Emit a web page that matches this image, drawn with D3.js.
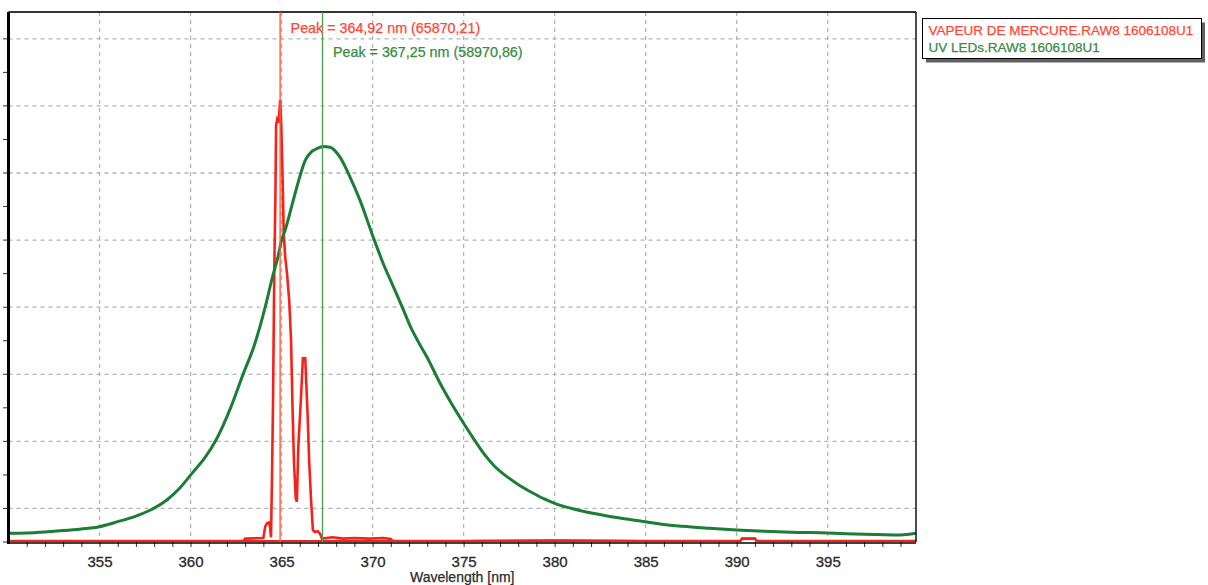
<!DOCTYPE html>
<html>
<head>
<meta charset="utf-8">
<script src="https://cdn.jsdelivr.net/npm/d3@7"></script>
<style>
  html, body { margin: 0; padding: 0; background: #fff; }
  svg { display: block; font-family: "Liberation Sans", Arial, sans-serif; }
</style>
</head>
<body>
<div class="visualization"></div>
<script>
// UV LED spectrum (green)
const ledWavelength = [350, 351, 352, 353, 354, 355, 356, 357, 357.8, 358.7, 359.4, 360.1, 360.8, 361.4, 362.2, 362.9, 363.5, 364.1, 364.5, 364.8, 365.0, 365.2, 365.6, 365.9, 366.3, 366.65, 367.0, 367.28, 367.66, 368.2, 368.76, 369.3, 370.0, 370.6, 371.1, 371.6, 372.1, 372.5, 373.0, 373.7, 374.3, 375.0, 375.5, 376.1, 376.7, 377.4, 378.1, 378.8, 379.4, 380.0, 381.0, 382.1, 383.5, 385.0, 385.8, 387.0, 388.5, 390.0, 391.5, 393.0, 395.0, 397.0, 399.0, 399.85];
const ledCounts = [1300, 1350, 1500, 1700, 1950, 2280, 3030, 3870, 4770, 6260, 8000, 10300, 12600, 15200, 20000, 25100, 29300, 35000, 39500, 42500, 45000, 46500, 50500, 53500, 56900, 58200, 58700, 58970, 58850, 57400, 54400, 51000, 45700, 41400, 38300, 35200, 32000, 29900, 27500, 23700, 20800, 17700, 15600, 13200, 11300, 9700, 8400, 7300, 6450, 5770, 4950, 4280, 3600, 3030, 2680, 2350, 2050, 1790, 1600, 1450, 1350, 1150, 1050, 1300];

// mercury vapour lamp spectrum (red)
const hgWavelength = [350, 355, 360, 362.9, 363.0, 364.0, 364.1, 364.2, 364.3, 364.36, 364.42, 364.48, 364.53, 364.6, 364.66, 364.7, 364.76, 364.84, 364.92, 364.98, 365.05, 365.12, 365.2, 365.3, 365.42, 365.52, 365.6, 365.68, 365.78, 365.84, 365.92, 366.06, 366.17, 366.3, 366.42, 366.52, 366.62, 366.72, 366.82, 366.98, 367.12, 367.22, 367.8, 368.4, 369.0, 369.8, 370.6, 371.0, 371.1, 375, 380, 385, 390.2, 390.3, 391.0, 391.1, 395, 399.85];
const hgCounts = [150, 150, 150, 150, 500, 600, 2300, 2800, 2900, 2400, 700, 10700, 20700, 40500, 51300, 62100, 63000, 62500, 65870, 62300, 55000, 46000, 42500, 40000, 36000, 30100, 20200, 12000, 6500, 6000, 14200, 21200, 27400, 27400, 19700, 11800, 6260, 1800, 1500, 1600, 1200, 500, 700, 500, 600, 500, 600, 450, 150, 150, 200, 150, 150, 500, 500, 150, 150, 150];

const xTickLabels = [355, 360, 365, 370, 375, 380, 385, 390, 395];
const yGridValues = [5000, 15000, 25000, 35000, 45000, 55000, 65000, 75000];
const peakWavelength = [364.92, 367.25];
const peakLabels = ["Peak = 364,92 nm (65870,21)", "Peak = 367,25 nm (58970,86)"];
const legendLabels = ["VAPEUR DE MERCURE.RAW8 1606108U1", "UV LEDs.RAW8 1606108U1"];

const W = 1208, H = 585;
const plotLeft = 8.5, plotRight = 916, plotTop = 12, plotBottom = 542;
const red = "#f5221a", green = "#1b7d36";

const svg = d3.select("div.visualization").append("svg")
    .attr("width", W)
    .attr("height", H);

const x = d3.scaleLinear().domain([350, 399.85]).range([plotLeft, plotRight]);
const y = d3.scaleLinear().domain([0, 79000]).range([plotBottom, plotTop]);

svg.append("defs").append("clipPath").attr("id", "plot")
  .append("rect")
    .attr("x", plotLeft).attr("y", plotTop)
    .attr("width", plotRight - plotLeft).attr("height", plotBottom - plotTop);

// dashed grid
svg.append("g").selectAll("line")
    .data(yGridValues)
    .enter().append("line")
    .attr("x1", plotLeft).attr("x2", plotRight)
    .attr("y1", d => y(d)).attr("y2", d => y(d))
    .attr("stroke", "#b4b4b4")
    .attr("stroke-width", 1.3)
    .attr("stroke-dasharray", "4,4");

svg.append("g").selectAll("line")
    .data(xTickLabels)
    .enter().append("line")
    .attr("x1", d => x(d)).attr("x2", d => x(d))
    .attr("y1", plotTop).attr("y2", plotBottom)
    .attr("stroke", "#b4b4b4")
    .attr("stroke-width", 1.3)
    .attr("stroke-dasharray", "4,4");

// x axis with minor ticks every nm
let xAxis = d3.axisBottom(x)
    .tickValues(d3.range(351, 400, 1))
    .tickSize(5)
    .tickPadding(9)
    .tickFormat(d => xTickLabels.includes(d) ? d : "");

let gx = svg.append("g")
    .attr("transform", `translate(0,${plotBottom})`)
    .call(xAxis);
gx.select(".domain").remove();
gx.selectAll("line").attr("stroke", "#333").attr("stroke-width", 1);
gx.selectAll("text")
    .style("font-family", "'Liberation Sans', Arial, sans-serif")
    .style("font-size", "15px")
    .style("fill", "#2a2a2a")
    .style("stroke", "#2a2a2a")
    .style("stroke-width", 0.3);

// y axis: ticks only, no labels
svg.append("g").selectAll("line")
    .data(d3.range(0, 79000, 5000))
    .enter().append("line")
    .attr("x1", 3).attr("x2", plotLeft)
    .attr("y1", d => y(d)).attr("y2", d => y(d))
    .attr("stroke", "#333")
    .attr("stroke-width", 1);

// series
let line = d3.line()
    .x(d => x(d[0]))
    .y(d => y(d[1]));

let smooth = d3.line()
    .x(d => x(d[0]))
    .y(d => y(d[1]))
    .curve(d3.curveMonotoneX);

let plot = svg.append("g").attr("clip-path", "url(#plot)");

plot.append("path")
    .datum(d3.zip(hgWavelength, hgCounts))
    .attr("fill", "none")
    .attr("stroke", red)
    .attr("stroke-width", 2.6)
    .attr("d", line);

plot.append("path")
    .datum(d3.zip(ledWavelength, ledCounts))
    .attr("fill", "none")
    .attr("stroke", green)
    .attr("stroke-width", 3)
    .attr("d", smooth);

// frame
svg.append("line").attr("x1", plotLeft).attr("x2", plotRight).attr("y1", plotTop).attr("y2", plotTop)
    .attr("stroke", "#333").attr("stroke-width", 2);
svg.append("line").attr("x1", plotRight).attr("x2", plotRight).attr("y1", plotTop).attr("y2", plotBottom)
    .attr("stroke", "#111").attr("stroke-width", 1.5);
svg.append("line").attr("x1", plotLeft).attr("x2", plotRight).attr("y1", plotBottom + 1).attr("y2", plotBottom + 1)
    .attr("stroke", "#000").attr("stroke-width", 1.6);
svg.append("line").attr("x1", plotLeft).attr("x2", plotLeft).attr("y1", plotTop).attr("y2", plotBottom + 2)
    .attr("stroke", "#000").attr("stroke-width", 3);

// red baseline sits over the axis outside the peak region
plot.append("path")
    .datum(d3.zip(hgWavelength, hgCounts).filter(d => d[0] < 363 || d[0] > 371))
    .attr("fill", "none")
    .attr("stroke", red)
    .attr("stroke-width", 2.2)
    .attr("d", line);

// peak markers
const markerColors = ["#ff5a3a", "#4f9f5a"];
const labelColors = ["#ff4636", "#3a8a42"];
svg.append("g").selectAll("line")
    .data(peakWavelength)
    .enter().append("line")
    .attr("x1", d => x(d)).attr("x2", d => x(d))
    .attr("y1", plotTop).attr("y2", plotBottom)
    .attr("stroke", (d, i) => markerColors[i])
    .attr("stroke-width", 1.4);

svg.append("g").selectAll("text")
    .data(peakWavelength)
    .enter().append("text")
    .attr("x", d => x(d) + 10.5)
    .attr("y", (d, i) => 33 + i * 24)
    .style("font-size", "14.3px")
    .style("fill", (d, i) => labelColors[i])
    .style("stroke", (d, i) => labelColors[i])
    .style("stroke-width", 0.25)
    .text((d, i) => peakLabels[i]);

// axis title, sitting at the bottom edge
svg.append("text")
    .attr("x", (plotLeft + plotRight) / 2)
    .attr("y", 581.5)
    .attr("text-anchor", "middle")
    .style("font-size", "14px")
    .style("fill", "#2a2a2a")
    .style("stroke", "#2a2a2a")
    .style("stroke-width", 0.25)
    .text("Wavelength [nm]");

// legend
let legend = svg.append("g");
legend.append("rect")
    .attr("x", 926).attr("y", 22.5)
    .attr("width", 279).attr("height", 40)
    .attr("fill", "#3a3a3a")
    .attr("opacity", 0.8);
legend.append("rect")
    .attr("x", 922.5).attr("y", 18.5)
    .attr("width", 279).attr("height", 40)
    .attr("fill", "#fff")
    .attr("stroke", "#000")
    .attr("stroke-width", 1);
legend.selectAll("text")
    .data(legendLabels)
    .enter().append("text")
    .attr("x", 928.5)
    .attr("y", (d, i) => 34.5 + i * 17.5)
    .style("font-size", "13.5px")
    .style("fill", (d, i) => labelColors[i])
    .style("stroke", (d, i) => labelColors[i])
    .style("stroke-width", 0.25)
    .text(d => d);
</script>
</body>
</html>
